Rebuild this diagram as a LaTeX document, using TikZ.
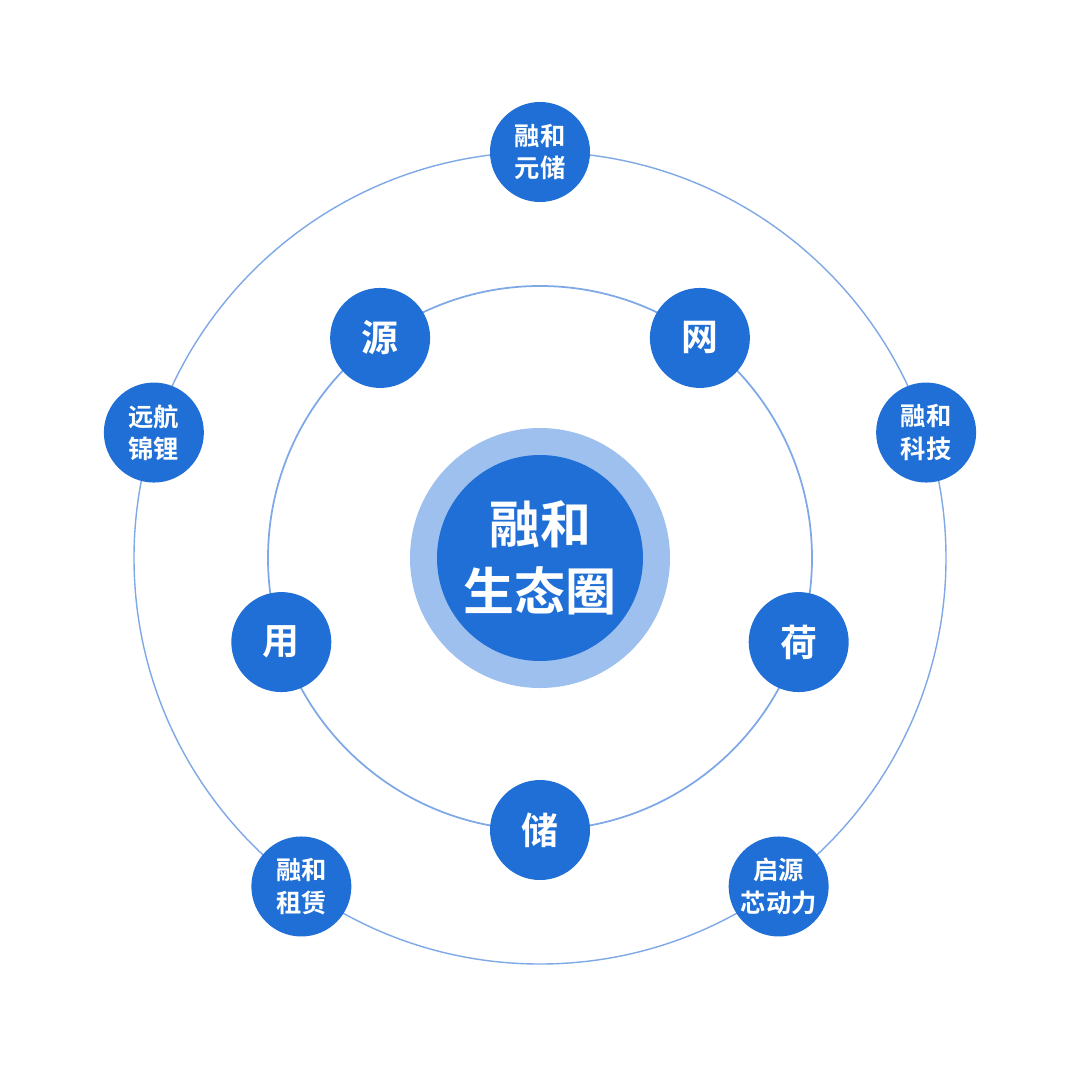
\documentclass[tikz,border=0pt]{standalone}
\usepackage{fontspec}
\usetikzlibrary{calc}
\newfontfamily\cjk{Noto Sans CJK SC}[BoldFont={Noto Sans CJK SC Bold}]
\definecolor{hubblue}{HTML}{1F6FD6}
\definecolor{ringblue}{HTML}{9DC0EE}
\definecolor{lineblue}{HTML}{7FA8E6}
\tikzset{
  ball/.style={circle, fill=hubblue, minimum size=1cm, inner sep=0pt, text=white, font=\cjk\bfseries, align=center},
  bigball/.style={ball, font=\cjk\bfseries\fontsize{10.5}{12}\selectfont},
  smallball/.style={ball, font=\cjk\bfseries\fontsize{7.2}{9.2}\selectfont}
}
\begin{document}
\begin{tikzpicture}
    \useasboundingbox (0,0) rectangle (10.8,10.67);
    \coordinate (hub) at (5.40,5.09);
    % orbits
    \draw[lineblue, line width=0.5pt] (hub) circle (2.72);
    \draw[lineblue, line width=0.4pt] (hub) circle (4.06);
    % centre
    \fill[ringblue] (hub) circle (1.30);
    \node[ball, minimum size=2.06cm, font=\cjk\bfseries\fontsize{14.5}{19}\selectfont] (core) at (hub) {融和\\生态圈};
    % inner ring
    \foreach \ang/\txt/\nm in {126/源/yuan, 54/网/wang, -18/荷/he, -90/储/chu, 198/用/yong}
        \node[bigball] (\nm) at ($(hub)+(\ang:2.72)$) {\txt};
    % outer ring
    \foreach \ang/\txt/\nm in {90/融和\\元储/yuanchu, 18/融和\\科技/keji, -54/启源\\芯动力/qiyuan, -126/融和\\租赁/zulin, 162/远航\\锦锂/yuanhang}
        \node[smallball] (\nm) at ($(hub)+(\ang:4.06)$) {\txt};
\end{tikzpicture}
\end{document}
